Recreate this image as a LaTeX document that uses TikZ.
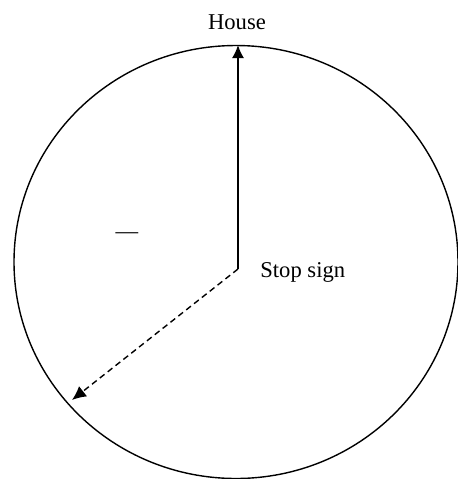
\documentclass[tikz,border=0pt]{standalone}
\usepackage{fontspec}
\setmainfont{Liberation Serif}
\usetikzlibrary{arrows.meta}
\begin{document}
\begin{tikzpicture}[x=0.5pt,y=-0.5pt,
  txt/.style={inner sep=0pt,font=\fontsize{11.3}{13}\selectfont},
  vec/.style={line width=0.85pt,-{Latex[length=6.5pt,width=6pt]}},
  dvec/.style={line width=0.7pt,dash pattern=on 3pt off 2pt,-{Latex[length=7pt,width=6.5pt]}}]
\useasboundingbox (0,0) rectangle (458,479);
\draw[line width=0.7pt] (236,262) ellipse [x radius=222, y radius=216.5];
\coordinate (O) at (238,269);
\coordinate (H) at (238,45);
\coordinate (S) at (72,400);
\node[txt] (house) at (237,22) {House};
\node[txt,anchor=west] (stop) at (260,272) {Stop sign};
\node[txt] (dash) at (127,236) {—};
\draw[vec] (O) -- (H);
\draw[dvec] (O) -- (S);
\end{tikzpicture}
\end{document}
